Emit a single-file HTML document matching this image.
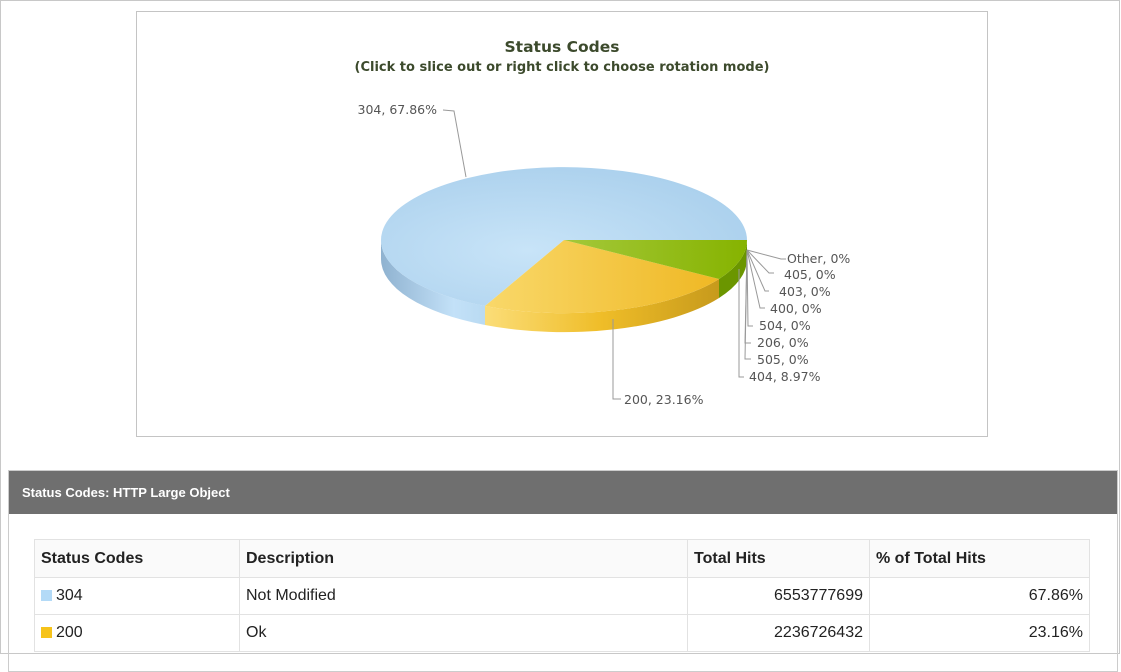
<!DOCTYPE html>
<html><head><style>
body{margin:0;width:1121px;height:654px;background:#fff;font-family:"Liberation Sans",Arial,sans-serif;position:relative;overflow:hidden}
.outer{position:absolute;left:0;top:0;width:1118px;height:652px;border:1px solid #c8c8c8}
.chart{position:absolute;left:136px;top:11px;width:850px;height:424px;border:1px solid #c4c4c4}
.panel{position:absolute;left:8px;top:470px;width:1108px;height:200px;border:1px solid #ccc}
.hdr{height:43px;background:#6f6f6f;color:#fff;font-weight:bold;font-size:13px;line-height:43px;padding-left:13px}
table{position:absolute;left:25px;top:68px;border-collapse:collapse;font-size:16px;color:#222}
td{border:1px solid #e2e2e2;height:36px;padding:0 6px}
th{border:1px solid #e2e2e2;height:37px;padding:0 6px;text-align:left;background:#fafafa;font-size:16px}
.sq{display:inline-block;width:11px;height:11px;margin-right:4px;vertical-align:-1px}
.r{text-align:right}
</style></head><body>
<div class="outer"></div>
<div class="chart">
<svg width="850" height="424" style="position:absolute;left:0;top:0">
<defs>
<radialGradient id="gb" cx="0.4" cy="0.6" r="0.7"><stop offset="0" stop-color="#c8e4f8"/><stop offset="1" stop-color="#a9cfec"/></radialGradient>
<linearGradient id="gy" x1="0" x2="1"><stop offset="0" stop-color="#f9d86a"/><stop offset="1" stop-color="#efb824"/></linearGradient>
<linearGradient id="gg" x1="0" x2="1"><stop offset="0" stop-color="#a4c83a"/><stop offset="1" stop-color="#86b300"/></linearGradient>
<linearGradient id="sb" x1="0" x2="1"><stop offset="0" stop-color="#8fb2d0"/><stop offset="0.7" stop-color="#c3e1f8"/><stop offset="1" stop-color="#b9daf2"/></linearGradient>
<linearGradient id="sy" x1="0" x2="1"><stop offset="0" stop-color="#fbdd78"/><stop offset="0.5" stop-color="#efbd28"/><stop offset="1" stop-color="#c79a1c"/></linearGradient>
</defs>
<text x="425" y="40" text-anchor="middle" font-family="DejaVu Sans,sans-serif" font-weight="bold" font-size="15.5" fill="#3c4a2c">Status Codes</text>
<text x="425" y="59" text-anchor="middle" font-family="DejaVu Sans,sans-serif" font-weight="bold" font-size="13" fill="#3c4a2c">(Click to slice out or right click to choose rotation mode)</text>
<g transform="translate(-136,-11)">
<path d="M380,239 A183,73 0 0 0 484,305 L484,324 A183,73 0 0 1 380,258 Z" fill="url(#sb)"/>
<path d="M484,305 A183,73 0 0 0 718,278 L718,297 A183,73 0 0 1 484,324 Z" fill="url(#sy)"/>
<path d="M718,278 A183,73 0 0 0 746,239 L746,258 A183,73 0 0 1 718,297 Z" fill="#6b9600"/>
<path d="M563,239 L484,305 A183,73 0 1 1 746,239 Z" fill="url(#gb)"/>
<path d="M563,239 L718,278 A183,73 0 0 1 484,305 Z" fill="url(#gy)"/>
<path d="M563,239 L746,239 A183,73 0 0 1 718,278 Z" fill="url(#gg)"/>
<g stroke="#999" fill="none" stroke-width="1">
<path d="M465,176 L453,110 L442,109"/>
<path d="M612,318 L612,398 L620,398"/>
<path d="M746,249 L780,258 L785,258"/>
<path d="M746,249 L768,272 L773,272"/>
<path d="M746,249 L764,290 L768,290"/>
<path d="M746,249 L759,307 L764,307"/>
<path d="M746,249 L747,325 L752,325"/>
<path d="M746,249 L744,342 L750,342"/>
<path d="M746,249 L744,358 L750,358"/>
<path d="M738,268 L738,376 L743,376"/>
</g>
<g font-family="DejaVu Sans,sans-serif" font-size="12.5" fill="#555">
<text x="436" y="113" text-anchor="end">304, 67.86%</text>
<text x="623" y="403">200, 23.16%</text>
<text x="786" y="262">Other, 0%</text>
<text x="783" y="278">405, 0%</text>
<text x="778" y="295">403, 0%</text>
<text x="769" y="312">400, 0%</text>
<text x="758" y="329">504, 0%</text>
<text x="756" y="346">206, 0%</text>
<text x="756" y="363">505, 0%</text>
<text x="748" y="380">404, 8.97%</text>
</g>
</g>
</svg>
</div>
<div class="panel">
<div class="hdr">Status Codes: HTTP Large Object</div>
<table>
<tr><th style="width:192px">Status Codes</th><th style="width:435px">Description</th><th style="width:169px">Total Hits</th><th style="width:207px">% of Total Hits</th></tr>
<tr><td><span class="sq" style="background:#b3daf7"></span>304</td><td>Not Modified</td><td class="r">6553777699</td><td class="r">67.86%</td></tr>
<tr><td><span class="sq" style="background:#f6c31a"></span>200</td><td>Ok</td><td class="r">2236726432</td><td class="r">23.16%</td></tr>
</table>
</div>
</body></html>
